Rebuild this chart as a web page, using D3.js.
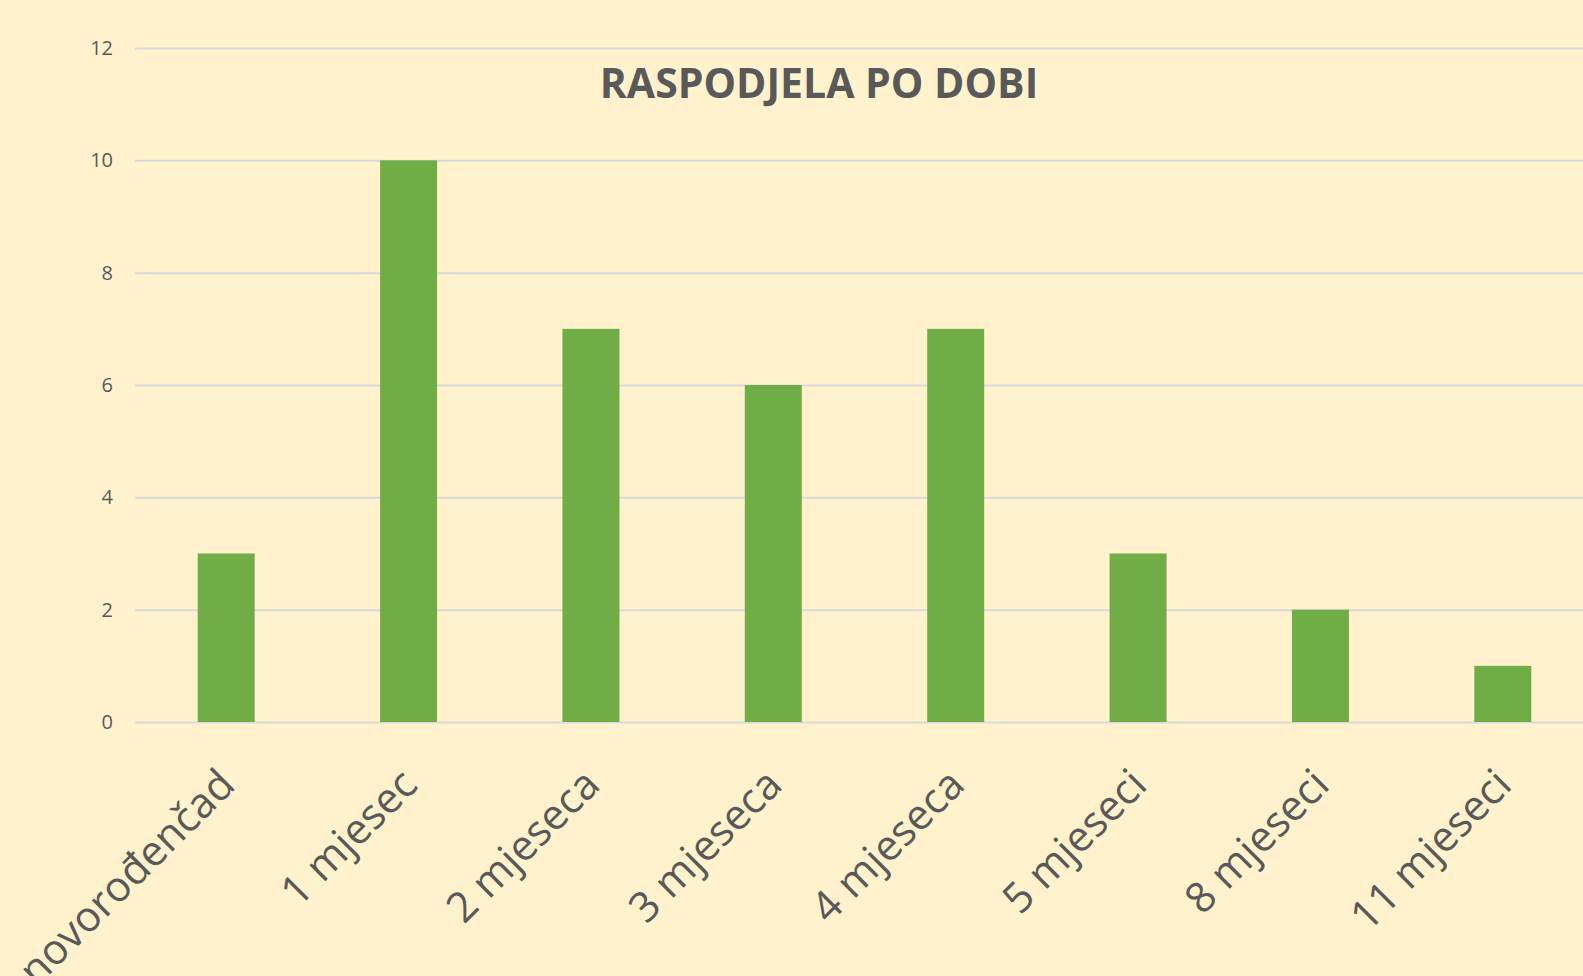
<!DOCTYPE html>
<html>
<head>
<meta charset="utf-8">
<script src="https://cdn.jsdelivr.net/npm/d3@7"></script>
<style>
  body { margin: 0; background: #fff2cc; overflow: hidden; }
  svg { display: block; font-family: "Open Sans", sans-serif; }
</style>
</head>
<body>
<svg class="chart"></svg>
<script>
const categories = ["novorođenčad", "1 mjesec", "2 mjeseca", "3 mjeseca", "4 mjeseca", "5 mjeseci", "8 mjeseci", "11 mjeseci"];
const values = [3, 10, 7, 6, 7, 3, 2, 1];
const yTicks = [0, 2, 4, 6, 8, 10, 12];
const title = "RASPODJELA PO DOBI";

const width = 1583;
const height = 976;

// plot area (Excel chart runs off the right edge)
const plotLeft = 135;
const plotRight = 1594;
const plotTop = 48;
const plotBottom = 722;

const svg = d3.select(".chart").attr("width", width).attr("height", height);

svg.append("rect").attr("width", width).attr("height", height).attr("fill", "#fff2cc");

const x = d3.scaleBand()
  .domain(categories)
  .range([plotLeft, plotRight])
  .paddingInner(0.6875)
  .paddingOuter(0.34375);

const y = d3.scaleLinear().domain([0, 12]).range([plotBottom, plotTop]);

// gridlines
svg.append("g")
  .attr("transform", `translate(${plotLeft},0)`)
  .call(d3.axisLeft(y).tickValues(yTicks).tickSize(-(plotRight - plotLeft)).tickFormat(""))
  .call((g) => g.select(".domain").remove())
  .call((g) => g.selectAll("line").attr("stroke", "#d9d9d9").attr("stroke-width", 2));

// y labels
svg.append("g")
  .attr("transform", `translate(${plotLeft - 22},0)`)
  .call(d3.axisLeft(y).tickValues(yTicks).tickSize(0).tickPadding(0))
  .call((g) => g.select(".domain").remove())
  .call((g) => g.selectAll("text")
    .attr("fill", "#595959")
    .style("font-size", "20px")
    .style("font-family", "'Open Sans', sans-serif"));

// bars
svg.append("g")
  .selectAll("rect")
  .data(values)
  .enter()
  .append("rect")
  .attr("x", (d, i) => x(categories[i]))
  .attr("y", (d) => y(d))
  .attr("width", x.bandwidth())
  .attr("height", (d) => y(0) - y(d))
  .attr("fill", "#70ad47");

// x labels, rotated
svg.append("g")
  .selectAll("text")
  .data(categories)
  .enter()
  .append("text")
  .attr("transform", (d) => `translate(${x(d) + x.bandwidth() / 2 + 11},${plotBottom + 65}) rotate(-45)`)
  .attr("text-anchor", "end")
  .attr("fill", "#595959")
  .style("font-size", "42px")
  .text((d) => d);

// title
svg.append("text")
  .attr("x", 819)
  .attr("y", 98)
  .attr("text-anchor", "middle")
  .attr("fill", "#595959")
  .style("font-size", "41px")
  .style("font-weight", "bold")
  .text(title);
</script>
</body>
</html>
